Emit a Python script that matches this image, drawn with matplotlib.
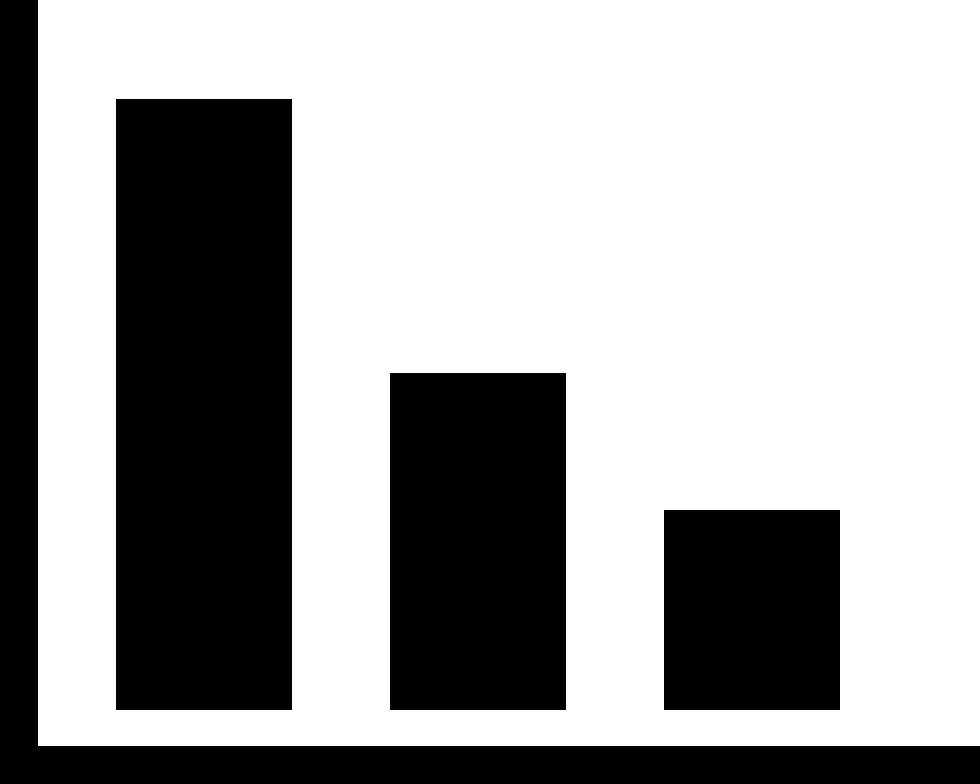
import numpy as np
import matplotlib
matplotlib.use('Agg')
import matplotlib.pyplot as plt

# bar values (relative heights)
categories = ['A', 'B', 'C']
values = [100, 55.2, 32.7]

W, H = 980, 784
fig = plt.figure(figsize=(W / 100, H / 100), dpi=100)
fig.patch.set_facecolor('white')

# axes edge sits in the middle of the thick black frame bands
left_px, bottom_px = 19, 19.5
ax = fig.add_axes([left_px / W, bottom_px / H, (W - left_px) / W, (H - bottom_px) / H])

x = np.arange(len(categories))
ax.bar(x, values, width=176 / 274, color='black')

# 274 px between bar centres, 6.11 px per value unit
ax.set_xlim(-(204 - left_px) / 274, (W - 204) / 274)
ybot = -(H - bottom_px - 710) / 6.11
ax.set_ylim(ybot, ybot + (H - bottom_px) / 6.11)

for side in ['top', 'right']:
    ax.spines[side].set_visible(False)
ax.spines['left'].set_linewidth(38 * 0.72)
ax.spines['bottom'].set_linewidth(39 * 0.72)
ax.spines['left'].set_capstyle('butt')
ax.spines['bottom'].set_capstyle('projecting')
ax.set_xticks([])
ax.set_yticks([])

plt.savefig('out.png', dpi=100, facecolor='white')
